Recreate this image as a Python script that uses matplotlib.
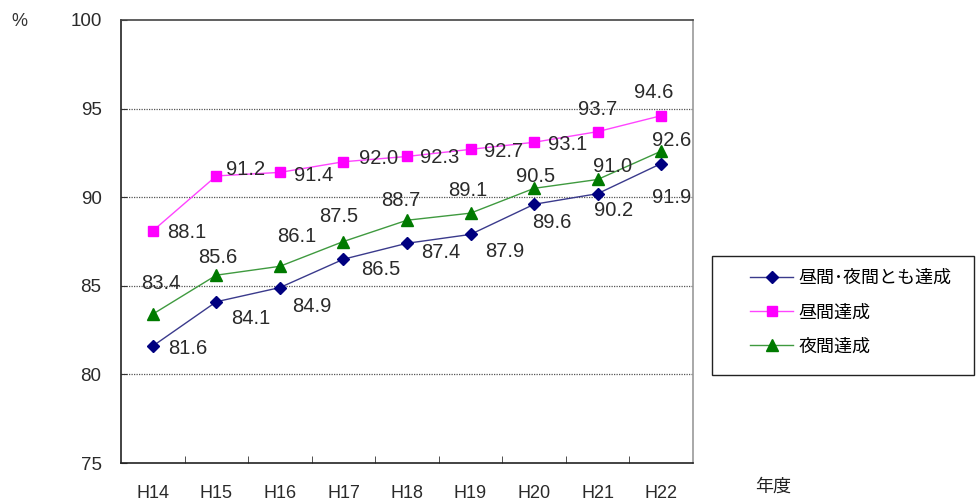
import matplotlib
matplotlib.use("Agg")
import matplotlib.pyplot as plt
from matplotlib.lines import Line2D
from matplotlib.patches import Rectangle

plt.rcParams['font.family'] = ['Liberation Sans', 'Noto Sans CJK JP', 'DejaVu Sans']

years = ["H14", "H15", "H16", "H17", "H18", "H19", "H20", "H21", "H22"]
both = [81.6, 84.1, 84.9, 86.5, 87.4, 87.9, 89.6, 90.2, 91.9]
day = [88.1, 91.2, 91.4, 92.0, 92.3, 92.7, 93.1, 93.7, 94.6]
night = [83.4, 85.6, 86.1, 87.5, 88.7, 89.1, 90.5, 91.0, 92.6]

series_names = ["昼間･夜間とも達成", "昼間達成", "夜間達成"]

# per-point label offsets in pixels (dx, dy)
both_off = [(35, -2), (34, -17), (32, -19), (37, -10), (34, -9), (34, -17), (18, -18), (16, -17), (10, -34)]
day_off = [(34, -2), (29, 6), (34, -3), (35, 3), (33, -1), (33, -2), (34, -2), (0, 22), (-8, 23)]
night_off = [(8, 31), (1, 18), (17, 30), (-5, 25), (-6, 20), (-3, 23), (1, 12), (15, 13), (10, 11)]

W, H = 976, 501
fig = plt.figure(figsize=(W / 100, H / 100), dpi=100)
ax = fig.add_axes([121 / W, (H - 463) / H, 572 / W, 443 / H])

x = list(range(len(years)))

styles = [
    dict(color="#3a3a8c", marker="D", ms=6, mfc="#000080", mec="#000080"),
    dict(color="#ff44ff", marker="s", ms=7.5, mfc="#ff00ff", mec="#ff00ff"),
    dict(color="#3f9a3f", marker="^", ms=8.5, mfc="#007a00", mec="#007a00"),
]
data = [both, day, night]
offsets = [both_off, day_off, night_off]

for vals, st, offs in zip(data, styles, offsets):
    ax.plot(x, vals, lw=1.0, zorder=3, **st)
    for xi, v, (dx, dy) in zip(x, vals, offs):
        ax.annotate(f"{v:.1f}", (xi, v), xytext=(dx, dy), textcoords="offset pixels",
                    ha="center", va="center", fontsize=14.5, color="#2a2a2a", zorder=4)

ax.set_xlim(-0.5, len(years) - 0.5)
ax.set_ylim(75, 100)
ax.set_yticks([75, 80, 85, 90, 95, 100])
ax.set_yticklabels(["75", "80", "85", "90", "95", "100"], fontsize=13.5, color="#2a2a2a")
ax.tick_params(axis="y", direction="in", length=4, pad=14, color="#333333")

ax.set_xticks(x)
ax.set_xticklabels(years, fontsize=13, color="#2a2a2a")
ax.set_xticks([i + 0.5 for i in x[:-1]], minor=True)
ax.tick_params(axis="x", which="major", length=0, pad=16)
ax.tick_params(axis="x", which="minor", direction="in", length=5, color="#333333")

for yv in [80, 85, 90, 95]:
    ax.axhline(yv, color="#555555", lw=0.9, ls=(0, (1, 1)), zorder=1)

ax.spines["left"].set_color("#222222")
ax.spines["bottom"].set_color("#222222")
ax.spines["top"].set_color("#444444")
ax.spines["right"].set_color("#999999")
for s in ax.spines.values():
    s.set_linewidth(1.2)

fig.text(19 / W, 1 - 21 / H, "%", fontsize=13, ha="center", va="center", color="#333333")
fig.text(773 / W, 1 - 487 / H, "年度", fontsize=13, ha="center", va="center",
         family=["Noto Sans CJK JP", "DejaVu Sans"], color="#222222")

# legend box
fig.patches.append(Rectangle((712 / W, 1 - 375 / H), 262 / W, 119 / H,
                             transform=fig.transFigure, fill=False,
                             edgecolor="#222222", lw=1.0))
handles = [Line2D([], [], lw=1.0, **st) for st in styles]
fig.legend(handles, series_names, loc="upper left",
           bbox_to_anchor=(750 / W, 1 - 269 / H), frameon=False,
           prop=dict(family=["Noto Sans CJK JP", "DejaVu Sans"], size=13),
           handlelength=2.4, handletextpad=0.3, labelspacing=0.9,
           borderpad=0, borderaxespad=0)

fig.savefig("out.png", dpi=100)
